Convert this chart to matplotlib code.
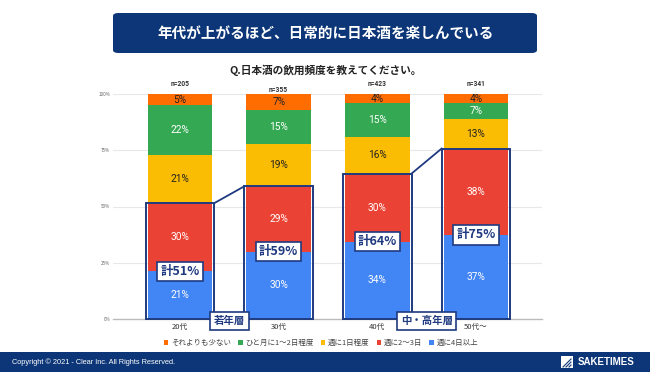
import matplotlib
matplotlib.use("Agg")
import matplotlib.pyplot as plt
from matplotlib.patches import Rectangle, FancyBboxPatch
import numpy as np

plt.rcParams['font.family'] = ['Noto Sans CJK JP', 'DejaVu Sans']

categories = ["20代", "30代", "40代", "50代～"]
n_labels = ["n=205", "n=355", "n=423", "n=341"]
series_names = ["週に4日以上", "週に2～3日", "週に1日程度", "ひと月に1～2日程度", "それよりも少ない"]
weekly4 = [21, 30, 34, 37]
weekly2_3 = [30, 29, 30, 38]
weekly1 = [21, 19, 16, 13]
monthly = [22, 15, 15, 7]
less = [5, 7, 4, 4]
totals_text = ["計51%", "計59%", "計64%", "計75%"]
groups = ["若年層", "中・高年層"]
yticks = [0, 25, 50, 75, 100]
ytick_labels = ["0%", "25%", "50%", "75%", "100%"]

colors = ["#4285F4", "#EA4335", "#FBBC04", "#34A853", "#FF6D01"]
text_colors = ["white", "white", "#222222", "white", "#222222"]
navy = "#0C3677"
box_navy = "#1F3A80"

fig = plt.figure(figsize=(6.5, 3.72), dpi=100)
ax = fig.add_axes([113/650, 1-319/372, (542-113)/650, (319-94)/372])

series = [weekly4, weekly2_3, weekly1, monthly, less]
data = np.array(series, dtype=float)
sums = data.sum(axis=0)
norm = data / sums * 100
x = np.arange(len(categories))
w = 0.655
bottom = np.zeros(len(categories))
for k in range(len(series)):
    ax.bar(x, norm[k], w, bottom=bottom, color=colors[k], label=series_names[k], zorder=2)
    for i in range(len(categories)):
        ax.text(x[i], bottom[i] + norm[k][i] / 2, f"{series[k][i]}%", ha='center', va='center',
                fontsize=7.3, color=text_colors[k], zorder=5, family=['Roboto', 'DejaVu Sans'])
    bottom += norm[k]

ax.set_xlim(-0.68, 3.67)
ax.set_ylim(0, 100)
ax.set_yticks(yticks)
ax.set_yticklabels(ytick_labels, fontsize=3.3, color="#666666")
ax.set_xticks(x)
ax.set_xticklabels(categories, fontsize=5.5, color="#333333")
ax.tick_params(axis='both', length=0, pad=2)
ax.tick_params(axis='x', pad=3)
for s in ['top', 'right', 'left']:
    ax.spines[s].set_visible(False)
ax.spines['bottom'].set_color("#bbbbbb")
ax.spines['bottom'].set_linewidth(1)
ax.yaxis.grid(True, color="#e8e8e8", linewidth=0.8, zorder=0)
ax.set_axisbelow(True)

# n labels
for i in range(len(categories)):
    dy = 0 if i != 1 else -2.5
    ax.text(x[i], 102.5 + dy, n_labels[i], ha='center', va='bottom', fontsize=4.8,
            fontweight='bold', color="#333333", clip_on=False, family=['Roboto', 'DejaVu Sans'])

# boxes around red+blue
top2 = norm[0] + norm[1]
pad = 0.02
for i in range(len(categories)):
    ax.add_patch(Rectangle((x[i] - w/2 - pad, 0), w + 2*pad, top2[i], fill=False,
                           edgecolor=box_navy, linewidth=1.4, zorder=6, clip_on=False))
for a, b in [(0, 1), (2, 3)]:
    ax.plot([x[a] + w/2 + pad, x[b] - w/2 - pad], [top2[a], top2[b]], color=box_navy,
            linewidth=1.3, zorder=6, clip_on=False)

# total labels
for i in range(len(categories)):
    ax.text(x[i], norm[0][i], totals_text[i], ha='center', va='center', fontsize=9,
            fontweight='bold', color=box_navy, zorder=8,
            bbox=dict(boxstyle='square,pad=0.25', facecolor='white', edgecolor=box_navy, linewidth=1.2))

# group labels
for g, (a, b) in zip(groups, [(0, 1), (2, 3)]):
    ax.text((x[a] + x[b]) / 2, -0.8, g, ha='center', va='center', fontsize=7.5,
            fontweight='bold', color=box_navy, zorder=9, clip_on=False,
            bbox=dict(boxstyle='square,pad=0.35', facecolor='white', edgecolor=box_navy, linewidth=1.2))

# legend
handles, labels = ax.get_legend_handles_labels()
order = [4, 3, 2, 1, 0]
leg = fig.legend([handles[j] for j in order], [labels[j] for j in order],
                 loc='center', bbox_to_anchor=(321/650, 1-343/372), ncol=5, frameon=False,
                 fontsize=5.4, handlelength=0.6, handleheight=0.6, handletextpad=0.4,
                 columnspacing=0.9, labelcolor="#444444")

# title banner
fig.patches.append(FancyBboxPatch((113/650, 1-53/372), (537-113)/650, 40/372,
                                  boxstyle='round,pad=0,rounding_size=0.008',
                                  transform=fig.transFigure, facecolor=navy, edgecolor='none'))
fig.text(326/650, 1-32.5/372, "年代が上がるほど、日常的に日本酒を楽しんでいる", ha='center', va='center',
         fontsize=10.5, fontweight='bold', color='white')
fig.text(326/650, 1-70/372, "Q.日本酒の飲用頻度を教えてください。", ha='center', va='center',
         fontsize=7.7, fontweight='bold', color="#222222")

# footer
fig.patches.append(Rectangle((0, 0), 1, 20/372, transform=fig.transFigure, facecolor=navy,
                             edgecolor='none'))
fig.text(12/650, 10/372, "Copyright © 2021 - Clear Inc. All Rights Reserved.", ha='left', va='center',
         fontsize=5.3, color='white', family=['Liberation Sans', 'DejaVu Sans'])
fig.patches.append(Rectangle((561/650, 4/372), 12/650, 12/372, transform=fig.transFigure,
                             facecolor='white', edgecolor='none'))
for off in [0, 3, 6]:
    fig.lines.append(plt.Line2D([(563 + off)/650, (571)/650], [5/372, (13 - off)/372],
                                transform=fig.transFigure, color=navy, linewidth=0.8))
fig.text(578/650, 10/372, "SAKETIMES", ha='left', va='center', fontsize=7, fontweight='bold',
         color='white', family=['Liberation Sans', 'DejaVu Sans'])

fig.savefig("out.png", dpi=100)
